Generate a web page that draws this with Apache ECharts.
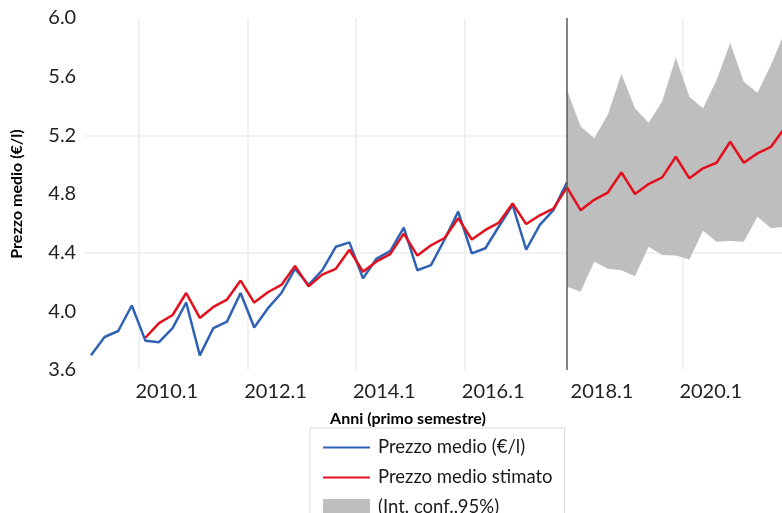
<!DOCTYPE html>
<html>
<head>
<meta charset="utf-8">
<script src="https://cdn.jsdelivr.net/npm/echarts@6/dist/echarts.min.js"></script>
<style>
html, body { margin: 0; padding: 0; background: #fff; }
#chart { width: 782px; height: 513px; }
</style>
</head>
<body>
<div id="chart"></div>
<script>
// trimestri (etichetta asse = anno.trimestre)
var quarters = [
    '2009.1', '2009.2', '2009.3', '2009.4', '2010.1', '2010.2', '2010.3', '2010.4',
    '2011.1', '2011.2', '2011.3', '2011.4', '2012.1', '2012.2', '2012.3', '2012.4',
    '2013.1', '2013.2', '2013.3', '2013.4', '2014.1', '2014.2', '2014.3', '2014.4',
    '2015.1', '2015.2', '2015.3', '2015.4', '2016.1', '2016.2', '2016.3', '2016.4',
    '2017.1', '2017.2', '2017.3', '2017.4', '2018.1', '2018.2', '2018.3', '2018.4',
    '2019.1', '2019.2', '2019.3', '2019.4', '2020.1', '2020.2', '2020.3', '2020.4',
    '2021.1', '2021.2', '2021.3', '2021.4'
]
// prezzo medio osservato (fino a 2017.4)
var prezzo = [
    3.70, 3.825, 3.866, 4.04, 3.80, 3.79, 3.886, 4.06,
    3.70, 3.886, 3.93, 4.125, 3.89, 4.02, 4.125, 4.29,
    4.18, 4.28, 4.44, 4.47, 4.225, 4.36, 4.41, 4.57,
    4.28, 4.315, 4.49, 4.68, 4.395, 4.43, 4.58, 4.725,
    4.42, 4.59, 4.69, 4.88
]
// prezzo medio stimato (da 2010.1)
var stimato = [
    null, null, null, null, 3.82, 3.92, 3.975, 4.125,
    3.955, 4.03, 4.08, 4.21, 4.06, 4.13, 4.18, 4.31,
    4.17, 4.25, 4.29, 4.42, 4.27, 4.34, 4.39, 4.53,
    4.38, 4.45, 4.50, 4.635, 4.49, 4.555, 4.605, 4.735,
    4.595, 4.655, 4.70, 4.845, 4.69, 4.76, 4.81, 4.947,
    4.80, 4.868, 4.913, 5.054, 4.907, 4.975, 5.013, 5.156,
    5.013, 5.077, 5.122, 5.25
]
// intervallo di confidenza 95% (da 2017.4)
var icInf = [
    4.168, 4.134, 4.338, 4.29, 4.28, 4.24, 4.44, 4.384,
    4.38, 4.354, 4.55, 4.475, 4.48, 4.475, 4.645, 4.566, 4.577
]
var icSup = [
    5.51, 5.26, 5.18, 5.34, 5.618, 5.384, 5.286, 5.43,
    5.73, 5.463, 5.384, 5.577, 5.83, 5.565, 5.49, 5.68, 5.9
]
var inizioPrev = '2017.4'
var yTicks = [3.6, 4.0, 4.4, 4.8, 5.2, 5.6, 6.0]

var offset = quarters.indexOf(inizioPrev)
var bandLow = []
var bandWidth = []
quarters.forEach(function (q, i) {
    var k = i - offset
    if (k >= 0 && k < icInf.length) {
        bandLow.push(icInf[k])
        bandWidth.push(+(icSup[k] - icInf[k]).toFixed(3))
    } else {
        bandLow.push(null)
        bandWidth.push(null)
    }
})

var font = 'Lato, "Open Sans", sans-serif'
var linePath = 'path://M0,0L24,0L24,1L0,1Z'
var gridColor = '#ececec'
var none = 'rgba(0,0,0,0)'

var myChart = echarts.init(document.getElementById('chart'))
var option = {
    animation: false,
    // il grafico originale e' tagliato a destra: la griglia esce dal canvas
    grid: { left: 84.2, width: 707.2, top: 18, bottom: 143, outerBoundsMode: 'none' },
    legend: {
        orient: 'vertical',
        left: 310,
        top: 428,
        height: 110,
        padding: [10, 12, 10, 13],
        borderColor: '#d9d9d9',
        borderWidth: 1,
        itemWidth: 47,
        itemHeight: 17,
        itemGap: 11,
        textStyle: { fontFamily: font, fontSize: 18.5, color: '#1a1a1a', padding: [0, 0, 0, 3] },
        data: [
            { name: 'Prezzo medio (€/l)', icon: linePath },
            { name: 'Prezzo medio stimato', icon: linePath },
            { name: '(Int. conf.,95%)', icon: 'rect' }
        ]
    },
    graphic: [{
        type: 'text',
        x: 408,
        y: 419,
        style: {
            text: 'Anni (primo semestre)',
            fontFamily: font,
            fontWeight: 'bold',
            fontSize: 16,
            fill: '#000',
            align: 'center',
            verticalAlign: 'middle'
        }
    }],
    xAxis: {
        type: 'category',
        data: quarters,
        boundaryGap: true,
        axisLine: { show: false },
        axisTick: { show: false },
        axisLabel: {
            interval: function (index) { return index % 8 === 4 },
            align: 'left',
            padding: [0, 0, 0, -10],
            margin: 12,
            fontFamily: font,
            fontSize: 20,
            color: '#222'
        },
        splitLine: {
            show: true,
            // niente griglia dove c'e' la linea di inizio previsione
            interval: function (index) { return index % 8 === 4 && index !== 36 },
            lineStyle: { color: gridColor, width: 1.5 }
        }
    },
    yAxis: {
        type: 'value',
        min: 3.6,
        max: 6.0,
        interval: 0.4,
        name: 'Prezzo medio (€/l)',
        nameLocation: 'middle',
        nameGap: 59,
        nameTextStyle: { fontFamily: font, fontWeight: 'bold', fontSize: 16, color: '#000' },
        axisLine: { show: false },
        axisTick: { show: false },
        axisLabel: {
            margin: 8,
            fontFamily: font,
            fontSize: 20,
            color: '#222',
            formatter: function (v) { return v.toFixed(1) }
        },
        splitLine: {
            show: true,
            // solo le linee a 4.4 e 5.2
            lineStyle: { color: yTicks.map(function (t) { return (t === 4.4 || t === 5.2) ? gridColor : none }), width: 1.5 }
        }
    },
    series: [
        {
            name: 'ic_base',
            type: 'line',
            stack: 'ic',
            data: bandLow,
            symbol: 'none',
            lineStyle: { opacity: 0 },
            silent: true
        },
        {
            name: '(Int. conf.,95%)',
            type: 'line',
            stack: 'ic',
            data: bandWidth,
            symbol: 'none',
            lineStyle: { opacity: 0 },
            itemStyle: { color: '#bebebe' },
            areaStyle: { color: '#bebebe', opacity: 1 },
            silent: true
        },
        {
            name: 'Prezzo medio (€/l)',
            type: 'line',
            data: prezzo,
            symbol: 'none',
            itemStyle: { color: '#2f62b4' },
            lineStyle: { color: '#2f62b4', width: 2.5 },
            markLine: {
                silent: true,
                symbol: 'none',
                label: { show: false },
                lineStyle: { color: '#5a5a5a', width: 1.5, type: 'solid' },
                data: [{ xAxis: inizioPrev }]
            }
        },
        {
            name: 'Prezzo medio stimato',
            type: 'line',
            data: stimato,
            symbol: 'none',
            itemStyle: { color: '#e3101c' },
            lineStyle: { color: '#e3101c', width: 2.5 }
        }
    ]
}
myChart.setOption(option)
window.addEventListener('resize', () => { myChart.resize() })
</script>
</body>
</html>
